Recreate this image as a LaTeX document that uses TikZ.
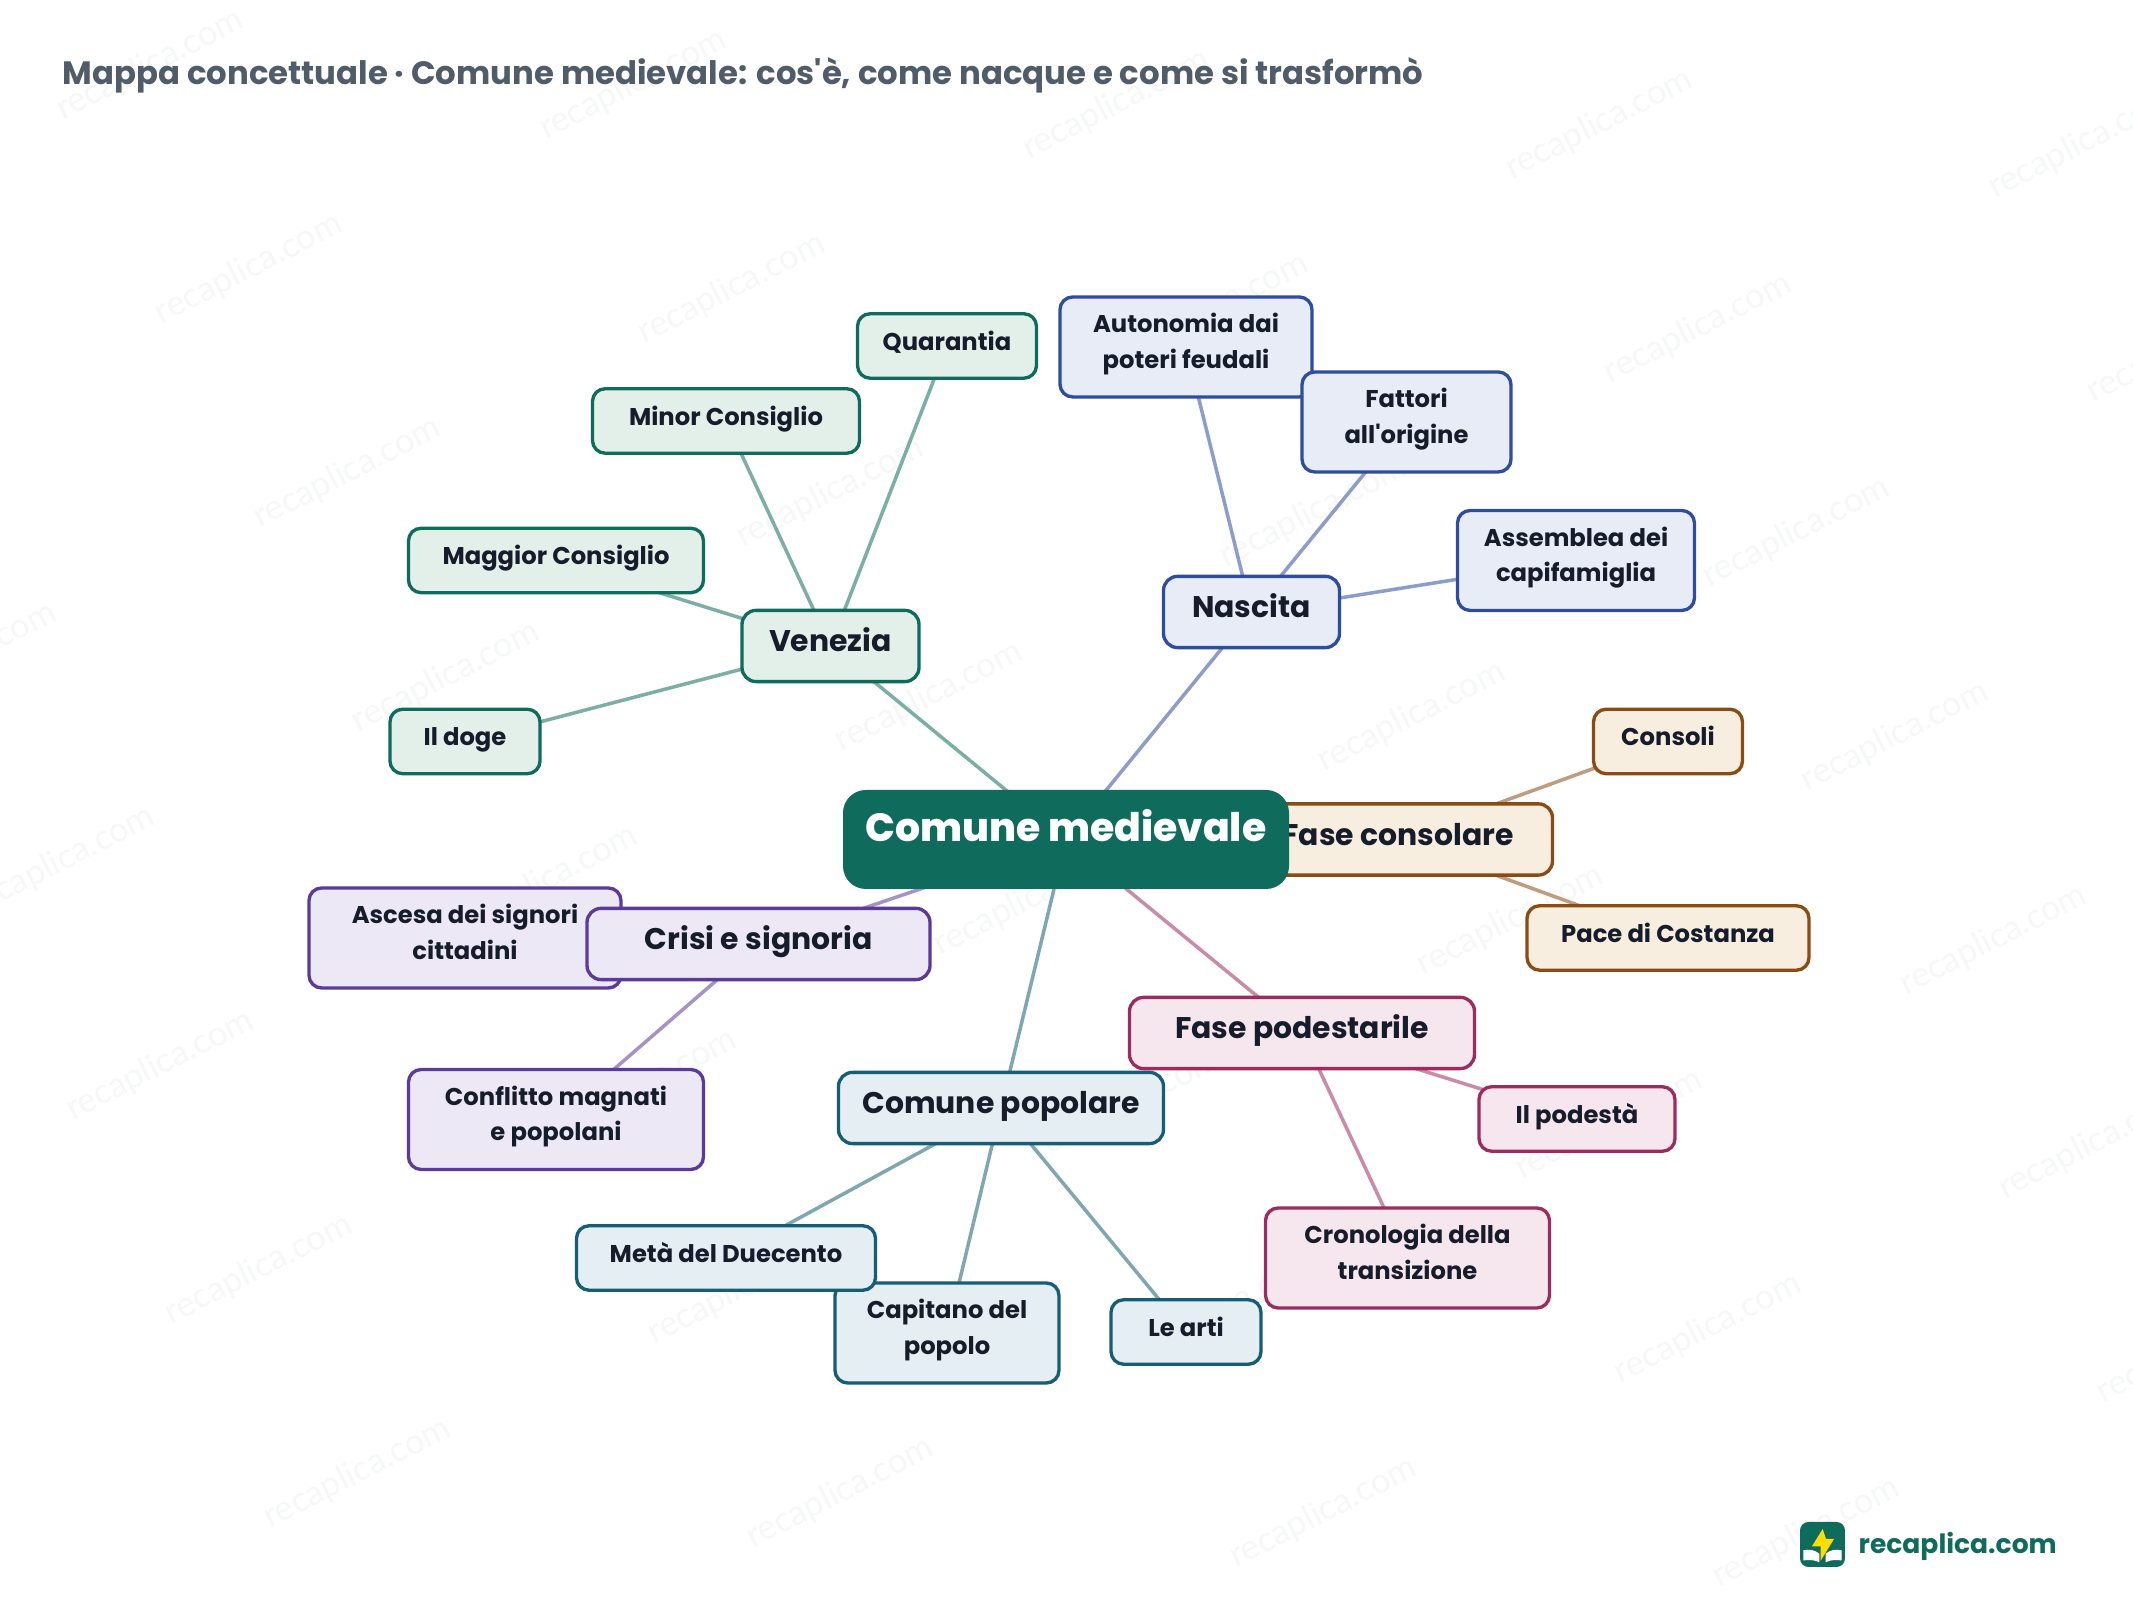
\documentclass[tikz,border=0pt]{standalone}
\usepackage{fontspec}
\setmainfont[Ligatures=TeXOff]{Poppins}
\newfontfamily\pesante[Ligatures=TeXOff]{Poppins ExtraBold}
\newfontfamily\filofont{Lato}
\usepackage{tikz}
\usetikzlibrary{backgrounds}
\definecolor{inchiostro}{HTML}{171C2B}
\definecolor{titolocol}{HTML}{505C69}
\definecolor{marchio}{HTML}{0F6B5C}
\definecolor{filigrana}{HTML}{F6F7F7}
\definecolor{verde}{HTML}{0F6B5C}
\definecolor{verdefondo}{HTML}{E3F0EA}
\definecolor{blu}{HTML}{2F4DA0}
\definecolor{blufondo}{HTML}{E8ECF7}
\definecolor{bruno}{HTML}{8A4B14}
\definecolor{brunofondo}{HTML}{F7EEDF}
\definecolor{rosa}{HTML}{9C2C5F}
\definecolor{rosafondo}{HTML}{F6E7EE}
\definecolor{petrolio}{HTML}{175E74}
\definecolor{petroliofondo}{HTML}{E4EEF3}
\definecolor{viola}{HTML}{5B3A9A}
\definecolor{violafondo}{HTML}{EDE8F6}
\tikzset{
	% riquadro comune
	riquadro/.style={rectangle, line width=0.95pt, text=inchiostro, align=center, font=\bfseries},
	% nodo di secondo livello
	tema/.style={riquadro, draw=#1, fill=#1fondo, rounded corners=4pt, minimum height=0.71cm,
	             text height=8.4pt, text depth=5.2pt, font=\bfseries\fontsize{8.5}{10}\selectfont},
	% foglia a una riga
	foglia/.style={riquadro, draw=#1, fill=#1fondo, rounded corners=3.6pt, minimum height=0.645cm,
	               text height=6.3pt, text depth=3.9pt, font=\bfseries\fontsize{6.9}{10.05}\selectfont},
	% foglia a due righe
	foglia2/.style={riquadro, draw=#1, fill=#1fondo, rounded corners=3.6pt, minimum height=1cm,
	                text height=15.5pt, text depth=3.4pt, font=\bfseries\fontsize{6.9}{10.05}\selectfont},
	% nodo centrale
	centrale/.style={rectangle, fill=verde, text=white, rounded corners=6.5pt, minimum width=4.46cm,
	                 minimum height=0.99cm, text height=10pt, text depth=9.1pt, font=\pesante\fontsize{11.2}{13}\selectfont},
	% collegamento
	ramo/.style={draw=#1!55, line width=1pt},
	% scritta di fondo
	filo/.style={text=filigrana, rotate=27, font=\filofont\fontsize{9.8}{11}\selectfont},
}

\begin{document}
\begin{tikzpicture}
    \useasboundingbox (0,0) rectangle (21.33,16);

    \node[anchor=base west, text=titolocol, inner sep=0pt, font=\bfseries\fontsize{9.2}{11}\selectfont] (titolo) at (0.62,15.15)
      {Mappa concettuale · Comune medievale: cos'è, come nacque e come si trasformò};

    % Venezia
    \node[foglia=verde, minimum width=1.79cm] (quarantia) at (9.47,12.54) {Quarantia};
    \node[foglia=verde, minimum width=2.67cm] (minor) at (7.26,11.79) {Minor Consiglio};
    \node[foglia=verde, minimum width=2.95cm] (maggior) at (5.56,10.395) {Maggior Consiglio};
    \node[foglia=verde, minimum width=1.50cm] (doge) at (4.65,8.585) {Il doge};
    \node[tema=verde, minimum width=1.77cm] (venezia) at (8.305,9.54) {Venezia};

    % Nascita
    \node[foglia2=blu, minimum width=2.52cm] (autonomia) at (11.86,12.53) {Autonomia dai\\poteri feudali};
    \node[foglia2=blu, minimum width=2.09cm] (fattori) at (14.065,11.78) {Fattori\\all'origine};
    \node[foglia2=blu, minimum width=2.37cm] (assemblea) at (15.76,10.395) {Assemblea dei\\capifamiglia};
    \node[tema=blu, minimum width=1.76cm] (nascita) at (12.515,9.88) {Nascita};

    % Fase consolare
    \node[foglia=bruno, minimum width=1.49cm] (consoli) at (16.68,8.585) {Consoli};
    \node[foglia=bruno, minimum width=2.82cm] (pace) at (16.68,6.62) {Pace di Costanza};
    \node[tema=bruno, minimum width=3.09cm] (consolare) at (13.98,7.605) {Fase consolare};

    % Comune popolare
    \node[foglia2=petrolio, minimum width=2.24cm] (capitano) at (9.47,2.67) {Capitano del\\popolo};
    \node[foglia=petrolio, minimum width=2.99cm] (meta) at (7.26,3.42) {Metà del Duecento};
    \node[foglia=petrolio, minimum width=1.50cm] (arti) at (11.86,2.68) {Le arti};
    \node[tema=petrolio, minimum width=3.25cm] (popolare) at (10.01,4.92) {Comune popolare};

    % Fase podestarile
    \node[foglia=rosa, minimum width=1.96cm] (podesta) at (15.77,4.81) {Il podestà};
    \node[foglia2=rosa, minimum width=2.84cm] (cronologia) at (14.075,3.42) {Cronologia della\\transizione};
    \node[tema=rosa, minimum width=3.45cm] (podestarile) at (13.02,5.67) {Fase podestarile};

    % Crisi e signoria
    \node[foglia2=viola, minimum width=3.12cm] (ascesa) at (4.65,6.62) {Ascesa dei signori\\cittadini};
    \node[foglia2=viola, minimum width=2.95cm] (conflitto) at (5.56,4.805) {Conflitto magnati\\e popolani};
    \node[tema=viola, minimum width=3.43cm] (crisi) at (7.585,6.56) {Crisi e signoria};

    \node[centrale] (comune) at (10.66,7.605) {Comune medievale};

    % collegamenti sotto i nodi
    \begin{scope}[on background layer]
      % filigrana
      \foreach \i in {-1,...,4}
        \foreach \j in {0,...,8}
          \node[filo] (wm\i\j) at ({1.50+4.83*\i+0.986*\j},{15.35-0.197*\i-2.04*\j}) {recaplica.com};
      \foreach \a in {quarantia,minor,maggior,doge}
        \draw[ramo=verde] (venezia.center) -- (\a.center);
      \foreach \a in {autonomia,fattori,assemblea}
        \draw[ramo=blu] (nascita.center) -- (\a.center);
      \foreach \a in {consoli,pace}
        \draw[ramo=bruno] (consolare.center) -- (\a.center);
      \foreach \a in {capitano,meta,arti}
        \draw[ramo=petrolio] (popolare.center) -- (\a.center);
      \foreach \a in {podesta,cronologia}
        \draw[ramo=rosa] (podestarile.center) -- (\a.center);
      \foreach \a in {ascesa,conflitto}
        \draw[ramo=viola] (crisi.center) -- (\a.center);
      \draw[ramo=verde] (comune.center) -- (venezia.center);
      \draw[ramo=blu] (comune.center) -- (nascita.center);
      \draw[ramo=bruno] (comune.center) -- (consolare.center);
      \draw[ramo=petrolio] (comune.center) -- (popolare.center);
      \draw[ramo=rosa] (comune.center) -- (podestarile.center);
      \draw[ramo=viola] (comune.center) -- (crisi.center);
    \end{scope}

    % logo
    \begin{scope}[shift={(18.00,0.78)}, x=0.01cm, y=-0.01cm]
      \fill[marchio, rounded corners=2.4pt] (0,0) rectangle (45,45);
      \fill[yellow!80!orange] (22.7,7) -- (12,24.3) -- (20.7,24.3) -- (20.7,38.7) -- (34,17) -- (26,17) -- cycle;
      \fill[white] (3.3,28.3) .. controls (9,27) and (15,28) .. (19.3,31.7) -- (19.3,40.3) .. controls (15,38) and (9,37.5) .. (3.3,38.5) -- cycle;
      \fill[white] (41.7,28.3) .. controls (36,27) and (30,28) .. (25.7,31.7) -- (25.7,40.3) .. controls (30,38) and (36,37.5) .. (41.7,38.5) -- cycle;
    \end{scope}
    \node[anchor=base west, text=marchio, inner sep=0pt, font=\bfseries\fontsize{7.55}{10}\selectfont] (sito) at (18.58,0.46) {recaplica.com};
\end{tikzpicture}
\end{document}
